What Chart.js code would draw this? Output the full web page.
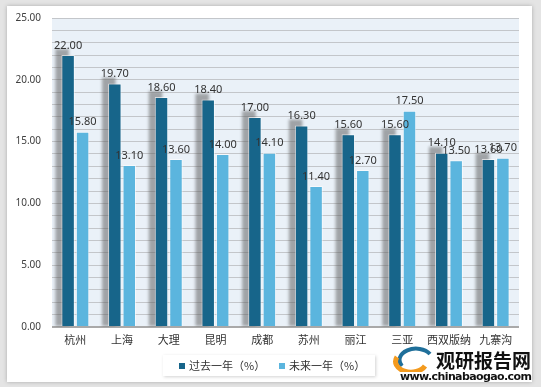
<!DOCTYPE html>
<html>
<head>
<meta charset="utf-8">
<script src="https://cdn.jsdelivr.net/npm/chart.js@4.4.1/dist/chart.umd.min.js"></script>
<style>
  html, body { margin: 0; padding: 0; }
  body { width: 541px; height: 387px; background: #e4e4e4; position: relative; overflow: hidden; font-family: "Noto Sans CJK SC", sans-serif; }
  #frame { position: absolute; left: 7px; top: 6px; width: 525px; height: 376px; background: #fff; box-shadow: 0 0 4px rgba(0,0,0,0.25); }
  #wrap { position: absolute; left: 0; top: 0; width: 541px; height: 387px; }
  #legend { position: absolute; left: 163px; top: 355px; width: 212px; height: 21px; background: #fff; box-shadow: 1px 1px 3px rgba(0,0,0,0.18); font-size: 11px; color: #333; }
  .item { position: absolute; top: 3px; line-height: 15px; white-space: nowrap; }
  .sq { display: inline-block; width: 6px; height: 6px; margin-right: 4px; vertical-align: 1px; }
  #mark { position: absolute; left: 436px; top: 348px; font-size: 19px; line-height: 24px; font-weight: bold; color: #111; white-space: nowrap; }
  #url { position: absolute; left: 400px; top: 371px; font-size: 11px; line-height: 12px; font-weight: bold; color: #111; font-family: "DejaVu Sans", sans-serif; letter-spacing: -0.6px; white-space: nowrap; }
  #logo { position: absolute; left: 392px; top: 346px; }
</style>
</head>
<body>
<div id="frame"></div>
<div id="wrap"><canvas id="salesChart" width="541" height="387"></canvas></div>
<div id="legend"></div>
<svg id="logo" width="44" height="26" viewBox="0 0 44 26">
  <path d="M10 20 A13 9 0 0 1 38 8" stroke="#1f6f9a" stroke-width="4" fill="none"/>
  <path d="M5 11 A13 9 0 0 0 33 20" stroke="#f39a1e" stroke-width="5" fill="none"/>
</svg>
<div id="mark">观研报告网</div>
<div id="url">www.chinabaogao.com</div>
<script>
// Data
const cities = ['杭州', '上海', '大理', '昆明', '成都', '苏州', '丽江', '三亚', '西双版纳', '九寨沟'];
const pastYear = [22.00, 19.70, 18.60, 18.40, 17.00, 16.30, 15.60, 15.60, 14.10, 13.60];
const nextYear = [15.80, 13.10, 13.60, 14.00, 14.10, 11.40, 12.70, 17.50, 13.50, 13.70];
const seriesNames = ['过去一年（%）', '未来一年（%）'];
const yTickLabels = ['0.00', '5.00', '10.00', '15.00', '20.00', '25.00'];

const darkBlue = '#17658a';
const lightBlue = '#5bb5de';

// Plot background
const plotBg = {
    id: 'plotBg',
    beforeDraw(chart) {
        const a = chart.chartArea;
        const ctx = chart.ctx;
        ctx.save();
        ctx.fillStyle = '#eaf1f8';
        ctx.fillRect(a.left, a.top, a.right - a.left, a.bottom - a.top);
        ctx.restore();
    }
};

// Gray shadow up and to the left of the dark bars
const barShadow = {
    id: 'barShadow',
    beforeDatasetsDraw(chart) {
        const ctx = chart.ctx;
        const a = chart.chartArea;
        ctx.save();
        ctx.beginPath();
        ctx.rect(a.left, a.top, a.right - a.left, a.bottom - a.top);
        ctx.clip();
        ctx.filter = 'blur(1.5px)';
        ctx.fillStyle = 'rgba(85,85,85,0.5)';
        chart.getDatasetMeta(0).data.forEach(bar => {
            const w = bar.width;
            ctx.fillRect(bar.x - w / 2 - 6, bar.y - 6, w, bar.base - bar.y + 6);
        });
        ctx.restore();
    }
};

// Value labels above bars
const valueLabels = {
    id: 'valueLabels',
    afterDatasetsDraw(chart) {
        const ctx = chart.ctx;
        ctx.save();
        ctx.font = '11px "Noto Sans", sans-serif';
        ctx.fillStyle = '#333';
        ctx.textAlign = 'center';
        ctx.textBaseline = 'bottom';
        chart.data.datasets.forEach((ds, i) => {
            chart.getDatasetMeta(i).data.forEach((bar, j) => {
                ctx.fillText(ds.data[j].toFixed(2), bar.x, bar.y - 4);
            });
        });
        ctx.restore();
    }
};

// Legend
const colors = [darkBlue, lightBlue];
const legendEl = document.getElementById('legend');
const legendX = [16, 116];
seriesNames.forEach((name, i) => {
    const item = document.createElement('div');
    item.className = 'item';
    item.style.left = legendX[i] + 'px';
    item.innerHTML = '<span class="sq" style="background:' + colors[i] + '"></span>' + name;
    legendEl.appendChild(item);
});

function renderChart() {
    const ctx = document.getElementById('salesChart').getContext('2d');
    new Chart(ctx, {
        type: 'bar',
        data: {
            labels: cities,
            datasets: [
                {
                    label: seriesNames[0],
                    data: pastYear,
                    backgroundColor: darkBlue,
                    borderColor: 'rgba(255,255,255,0.6)',
                    borderWidth: 1,
                    barPercentage: 0.93,
                    categoryPercentage: 0.62
                },
                {
                    label: seriesNames[1],
                    data: nextYear,
                    backgroundColor: lightBlue,
                    borderColor: 'rgba(255,255,255,0.6)',
                    borderWidth: 1,
                    barPercentage: 0.93,
                    categoryPercentage: 0.62
                }
            ]
        },
        options: {
            responsive: false,
            animation: false,
            layout: { padding: { top: 18, right: 22, bottom: 30, left: 0 } },
            plugins: {
                legend: { display: false },
                tooltip: { enabled: false }
            },
            scales: {
                x: {
                    grid: { display: false, drawTicks: false },
                    border: { display: false },
                    ticks: {
                        autoSkip: false,
                        maxRotation: 0,
                        minRotation: 0,
                        padding: 6,
                        color: '#333',
                        font: { family: '"Noto Sans CJK SC", sans-serif', size: 11 }
                    },
                    afterFit(scale) { scale.height = 30; }
                },
                y: {
                    min: 0,
                    max: 25,
                    border: { display: false },
                    grid: {
                        drawTicks: false,
                        color: c => c.tick.value === 0 ? '#a9a9a9' : '#c3c6ca',
                        lineWidth: c => c.tick.value === 0 ? 2 : 1
                    },
                    ticks: {
                        stepSize: 1,
                        autoSkip: false,
                        padding: 11,
                        color: '#404040',
                        font: { family: '"Noto Sans", sans-serif', size: 10 },
                        callback: v => (v % 5 === 0 ? yTickLabels[v / 5] : '')
                    },
                    afterFit(scale) { scale.width = 52; }
                }
            }
        },
        plugins: [plotBg, barShadow, valueLabels]
    });
}

window.onload = function() {
    renderChart();
};
</script>
</body>
</html>
